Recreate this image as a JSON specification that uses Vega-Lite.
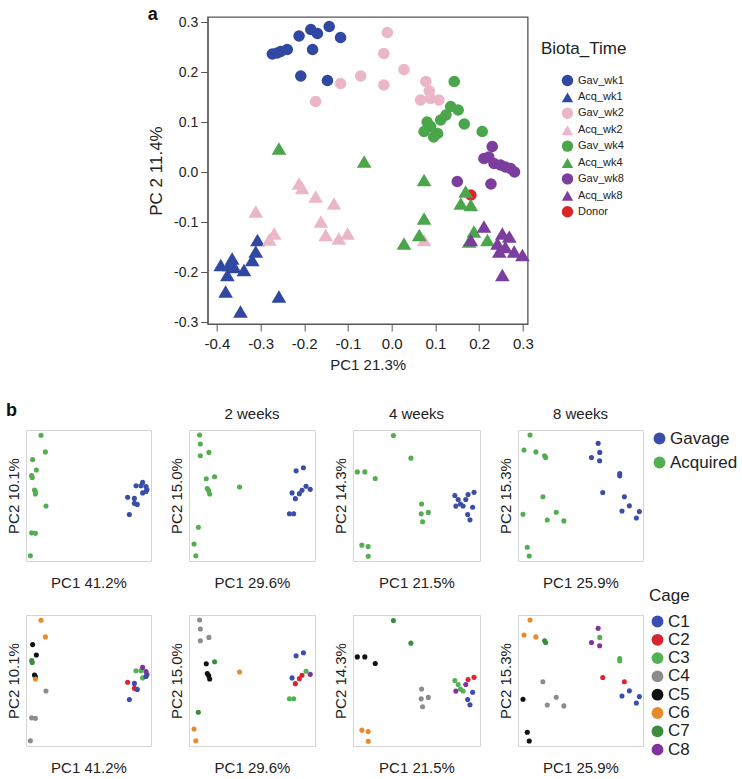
{
  "$schema": "https://vega.github.io/schema/vega-lite/v6.json",
  "padding": {"left": 5, "top": 5, "right": 0, "bottom": 0},
  "config": {
    "font": "Liberation Sans",
    "view": {"stroke": "#d4d4d4"},
    "axis": {"grid": false, "labelColor": "#222", "titleColor": "#222", "titleFontWeight": "normal", "labelFont": "Liberation Sans", "titleFont": "Liberation Sans"},
    "title": {"font": "Liberation Sans", "fontWeight": "normal", "color": "#222"},
    "legend": {"labelFont": "Liberation Sans", "titleFont": "Liberation Sans", "labelColor": "#222", "titleColor": "#222", "titleFontWeight": "normal"}
  },
  "datasets": {
    "top": [
      {"bt": "Gav_wk1", "x": -0.273, "y": 0.236}, {"bt": "Gav_wk1", "x": -0.262, "y": 0.238}, {"bt": "Gav_wk1", "x": -0.254, "y": 0.241}, {"bt": "Gav_wk1", "x": -0.239, "y": 0.245}, {"bt": "Gav_wk1", "x": -0.212, "y": 0.272}, {"bt": "Gav_wk1", "x": -0.185, "y": 0.285}, {"bt": "Gav_wk1", "x": -0.17, "y": 0.277}, {"bt": "Gav_wk1", "x": -0.143, "y": 0.291}, {"bt": "Gav_wk1", "x": -0.117, "y": 0.269}, {"bt": "Gav_wk1", "x": -0.181, "y": 0.245}, {"bt": "Gav_wk1", "x": -0.208, "y": 0.192}, {"bt": "Gav_wk1", "x": -0.147, "y": 0.183},
      {"bt": "Acq_wk1", "x": -0.307, "y": -0.136}, {"bt": "Acq_wk1", "x": -0.311, "y": -0.159}, {"bt": "Acq_wk1", "x": -0.319, "y": -0.176}, {"bt": "Acq_wk1", "x": -0.338, "y": -0.196}, {"bt": "Acq_wk1", "x": -0.365, "y": -0.173}, {"bt": "Acq_wk1", "x": -0.372, "y": -0.186}, {"bt": "Acq_wk1", "x": -0.391, "y": -0.186}, {"bt": "Acq_wk1", "x": -0.376, "y": -0.206}, {"bt": "Acq_wk1", "x": -0.38, "y": -0.239}, {"bt": "Acq_wk1", "x": -0.346, "y": -0.279}, {"bt": "Acq_wk1", "x": -0.258, "y": -0.249}, {"bt": "Acq_wk1", "x": -0.36, "y": -0.19},
      {"bt": "Gav_wk2", "x": -0.01, "y": 0.279}, {"bt": "Gav_wk2", "x": -0.018, "y": 0.237}, {"bt": "Gav_wk2", "x": 0.028, "y": 0.205}, {"bt": "Gav_wk2", "x": -0.071, "y": 0.192}, {"bt": "Gav_wk2", "x": -0.117, "y": 0.177}, {"bt": "Gav_wk2", "x": -0.018, "y": 0.174}, {"bt": "Gav_wk2", "x": -0.174, "y": 0.141}, {"bt": "Gav_wk2", "x": 0.078, "y": 0.181}, {"bt": "Gav_wk2", "x": 0.066, "y": 0.144}, {"bt": "Gav_wk2", "x": 0.089, "y": 0.147}, {"bt": "Gav_wk2", "x": 0.108, "y": 0.144}, {"bt": "Gav_wk2", "x": 0.086, "y": 0.162},
      {"bt": "Acq_wk2", "x": -0.212, "y": -0.023}, {"bt": "Acq_wk2", "x": -0.205, "y": -0.032}, {"bt": "Acq_wk2", "x": -0.174, "y": -0.049}, {"bt": "Acq_wk2", "x": -0.132, "y": -0.063}, {"bt": "Acq_wk2", "x": -0.311, "y": -0.079}, {"bt": "Acq_wk2", "x": -0.162, "y": -0.099}, {"bt": "Acq_wk2", "x": -0.269, "y": -0.123}, {"bt": "Acq_wk2", "x": -0.28, "y": -0.135}, {"bt": "Acq_wk2", "x": -0.151, "y": -0.126}, {"bt": "Acq_wk2", "x": -0.121, "y": -0.133}, {"bt": "Acq_wk2", "x": -0.101, "y": -0.123}, {"bt": "Acq_wk2", "x": 0.074, "y": -0.136},
      {"bt": "Gav_wk4", "x": 0.143, "y": 0.181}, {"bt": "Gav_wk4", "x": 0.135, "y": 0.131}, {"bt": "Gav_wk4", "x": 0.152, "y": 0.124}, {"bt": "Gav_wk4", "x": 0.074, "y": 0.081}, {"bt": "Gav_wk4", "x": 0.089, "y": 0.091}, {"bt": "Gav_wk4", "x": 0.105, "y": 0.077}, {"bt": "Gav_wk4", "x": 0.112, "y": 0.104}, {"bt": "Gav_wk4", "x": 0.124, "y": 0.114}, {"bt": "Gav_wk4", "x": 0.166, "y": 0.096}, {"bt": "Gav_wk4", "x": 0.207, "y": 0.081}, {"bt": "Gav_wk4", "x": 0.081, "y": 0.1}, {"bt": "Gav_wk4", "x": 0.096, "y": 0.07},
      {"bt": "Acq_wk4", "x": -0.258, "y": 0.047}, {"bt": "Acq_wk4", "x": -0.063, "y": 0.021}, {"bt": "Acq_wk4", "x": 0.074, "y": -0.016}, {"bt": "Acq_wk4", "x": 0.074, "y": -0.093}, {"bt": "Acq_wk4", "x": 0.063, "y": -0.126}, {"bt": "Acq_wk4", "x": 0.028, "y": -0.143}, {"bt": "Acq_wk4", "x": 0.169, "y": -0.039}, {"bt": "Acq_wk4", "x": 0.158, "y": -0.063}, {"bt": "Acq_wk4", "x": 0.181, "y": -0.066}, {"bt": "Acq_wk4", "x": 0.188, "y": -0.119}, {"bt": "Acq_wk4", "x": 0.177, "y": -0.139}, {"bt": "Acq_wk4", "x": 0.219, "y": -0.136},
      {"bt": "Gav_wk8", "x": 0.23, "y": 0.051}, {"bt": "Gav_wk8", "x": 0.211, "y": 0.027}, {"bt": "Gav_wk8", "x": 0.234, "y": 0.017}, {"bt": "Gav_wk8", "x": 0.249, "y": 0.014}, {"bt": "Gav_wk8", "x": 0.26, "y": 0.01}, {"bt": "Gav_wk8", "x": 0.272, "y": 0.007}, {"bt": "Gav_wk8", "x": 0.281, "y": 0.0}, {"bt": "Gav_wk8", "x": 0.15, "y": -0.019}, {"bt": "Gav_wk8", "x": 0.227, "y": -0.024}, {"bt": "Gav_wk8", "x": 0.222, "y": 0.03},
      {"bt": "Acq_wk8", "x": 0.211, "y": -0.109}, {"bt": "Acq_wk8", "x": 0.181, "y": -0.136}, {"bt": "Acq_wk8", "x": 0.253, "y": -0.123}, {"bt": "Acq_wk8", "x": 0.269, "y": -0.129}, {"bt": "Acq_wk8", "x": 0.242, "y": -0.143}, {"bt": "Acq_wk8", "x": 0.246, "y": -0.159}, {"bt": "Acq_wk8", "x": 0.28, "y": -0.159}, {"bt": "Acq_wk8", "x": 0.299, "y": -0.166}, {"bt": "Acq_wk8", "x": 0.253, "y": -0.206}, {"bt": "Acq_wk8", "x": 0.26, "y": -0.15},
      {"bt": "Donor", "x": 0.181, "y": -0.046}
    ],
    "pc": [
      {"w": 1, "g": "Acquired", "c": "C6", "x": 0.12, "y": 0.96}, {"w": 1, "g": "Acquired", "c": "C6", "x": 0.155, "y": 0.833}, {"w": 1, "g": "Acquired", "c": "C5", "x": 0.053, "y": 0.774}, {"w": 1, "g": "Acquired", "c": "C5", "x": 0.083, "y": 0.695}, {"w": 1, "g": "Acquired", "c": "C7", "x": 0.045, "y": 0.652}, {"w": 1, "g": "Acquired", "c": "C7", "x": 0.05, "y": 0.638}, {"w": 1, "g": "Acquired", "c": "C5", "x": 0.068, "y": 0.542}, {"w": 1, "g": "Acquired", "c": "C5", "x": 0.075, "y": 0.53}, {"w": 1, "g": "Acquired", "c": "C6", "x": 0.075, "y": 0.511}, {"w": 1, "g": "Acquired", "c": "C4", "x": 0.16, "y": 0.42}, {"w": 1, "g": "Acquired", "c": "C4", "x": 0.045, "y": 0.215}, {"w": 1, "g": "Acquired", "c": "C4", "x": 0.075, "y": 0.211}, {"w": 1, "g": "Acquired", "c": "C4", "x": 0.035, "y": 0.04},
      {"w": 1, "g": "Gavage", "c": "C2", "x": 0.813, "y": 0.487}, {"w": 1, "g": "Gavage", "c": "C2", "x": 0.867, "y": 0.44}, {"w": 1, "g": "Gavage", "c": "C1", "x": 0.867, "y": 0.478}, {"w": 1, "g": "Gavage", "c": "C1", "x": 0.89, "y": 0.432}, {"w": 1, "g": "Gavage", "c": "C1", "x": 0.827, "y": 0.355}, {"w": 1, "g": "Gavage", "c": "C3", "x": 0.88, "y": 0.574}, {"w": 1, "g": "Gavage", "c": "C3", "x": 0.92, "y": 0.574}, {"w": 1, "g": "Gavage", "c": "C8", "x": 0.933, "y": 0.6}, {"w": 1, "g": "Gavage", "c": "C3", "x": 0.933, "y": 0.52}, {"w": 1, "g": "Gavage", "c": "C8", "x": 0.96, "y": 0.568}, {"w": 1, "g": "Gavage", "c": "C8", "x": 0.968, "y": 0.545}, {"w": 1, "g": "Gavage", "c": "C1", "x": 0.96, "y": 0.53},
      {"w": 2, "g": "Acquired", "c": "C4", "x": 0.084, "y": 0.962}, {"w": 2, "g": "Acquired", "c": "C4", "x": 0.09, "y": 0.893}, {"w": 2, "g": "Acquired", "c": "C4", "x": 0.09, "y": 0.803}, {"w": 2, "g": "Acquired", "c": "C4", "x": 0.158, "y": 0.829}, {"w": 2, "g": "Acquired", "c": "C5", "x": 0.137, "y": 0.628}, {"w": 2, "g": "Acquired", "c": "C7", "x": 0.203, "y": 0.643}, {"w": 2, "g": "Acquired", "c": "C5", "x": 0.145, "y": 0.553}, {"w": 2, "g": "Acquired", "c": "C5", "x": 0.156, "y": 0.537}, {"w": 2, "g": "Acquired", "c": "C5", "x": 0.164, "y": 0.512}, {"w": 2, "g": "Acquired", "c": "C6", "x": 0.401, "y": 0.565}, {"w": 2, "g": "Acquired", "c": "C7", "x": 0.074, "y": 0.258}, {"w": 2, "g": "Acquired", "c": "C6", "x": 0.04, "y": 0.13}, {"w": 2, "g": "Acquired", "c": "C6", "x": 0.054, "y": 0.04},
      {"w": 2, "g": "Gavage", "c": "C1", "x": 0.85, "y": 0.688}, {"w": 2, "g": "Gavage", "c": "C1", "x": 0.908, "y": 0.712}, {"w": 2, "g": "Gavage", "c": "C3", "x": 0.797, "y": 0.361}, {"w": 2, "g": "Gavage", "c": "C3", "x": 0.831, "y": 0.361}, {"w": 2, "g": "Gavage", "c": "C1", "x": 0.818, "y": 0.52}, {"w": 2, "g": "Gavage", "c": "C2", "x": 0.844, "y": 0.476}, {"w": 2, "g": "Gavage", "c": "C2", "x": 0.876, "y": 0.514}, {"w": 2, "g": "Gavage", "c": "C2", "x": 0.897, "y": 0.54}, {"w": 2, "g": "Gavage", "c": "C3", "x": 0.929, "y": 0.571}, {"w": 2, "g": "Gavage", "c": "C8", "x": 0.962, "y": 0.547},
      {"w": 4, "g": "Acquired", "c": "C7", "x": 0.318, "y": 0.958}, {"w": 4, "g": "Acquired", "c": "C7", "x": 0.456, "y": 0.785}, {"w": 4, "g": "Acquired", "c": "C5", "x": 0.034, "y": 0.68}, {"w": 4, "g": "Acquired", "c": "C5", "x": 0.093, "y": 0.68}, {"w": 4, "g": "Acquired", "c": "C5", "x": 0.175, "y": 0.63}, {"w": 4, "g": "Acquired", "c": "C4", "x": 0.54, "y": 0.435}, {"w": 4, "g": "Acquired", "c": "C4", "x": 0.537, "y": 0.36}, {"w": 4, "g": "Acquired", "c": "C4", "x": 0.593, "y": 0.371}, {"w": 4, "g": "Acquired", "c": "C4", "x": 0.548, "y": 0.3}, {"w": 4, "g": "Acquired", "c": "C6", "x": 0.07, "y": 0.121}, {"w": 4, "g": "Acquired", "c": "C6", "x": 0.119, "y": 0.11}, {"w": 4, "g": "Acquired", "c": "C6", "x": 0.12, "y": 0.036},
      {"w": 4, "g": "Gavage", "c": "C3", "x": 0.802, "y": 0.5}, {"w": 4, "g": "Gavage", "c": "C3", "x": 0.828, "y": 0.47}, {"w": 4, "g": "Gavage", "c": "C3", "x": 0.846, "y": 0.435}, {"w": 4, "g": "Gavage", "c": "C3", "x": 0.867, "y": 0.42}, {"w": 4, "g": "Gavage", "c": "C8", "x": 0.888, "y": 0.47}, {"w": 4, "g": "Gavage", "c": "C8", "x": 0.81, "y": 0.419}, {"w": 4, "g": "Gavage", "c": "C2", "x": 0.906, "y": 0.507}, {"w": 4, "g": "Gavage", "c": "C2", "x": 0.953, "y": 0.524}, {"w": 4, "g": "Gavage", "c": "C1", "x": 0.942, "y": 0.41}, {"w": 4, "g": "Gavage", "c": "C1", "x": 0.903, "y": 0.355}, {"w": 4, "g": "Gavage", "c": "C1", "x": 0.921, "y": 0.314},
      {"w": 8, "g": "Acquired", "c": "C6", "x": 0.096, "y": 0.962}, {"w": 8, "g": "Acquired", "c": "C6", "x": 0.048, "y": 0.847}, {"w": 8, "g": "Acquired", "c": "C6", "x": 0.143, "y": 0.833}, {"w": 8, "g": "Acquired", "c": "C7", "x": 0.213, "y": 0.803}, {"w": 8, "g": "Acquired", "c": "C7", "x": 0.221, "y": 0.79}, {"w": 8, "g": "Acquired", "c": "C4", "x": 0.199, "y": 0.491}, {"w": 8, "g": "Acquired", "c": "C5", "x": 0.04, "y": 0.357}, {"w": 8, "g": "Acquired", "c": "C4", "x": 0.306, "y": 0.372}, {"w": 8, "g": "Acquired", "c": "C4", "x": 0.234, "y": 0.313}, {"w": 8, "g": "Acquired", "c": "C4", "x": 0.367, "y": 0.306}, {"w": 8, "g": "Acquired", "c": "C5", "x": 0.074, "y": 0.105}, {"w": 8, "g": "Acquired", "c": "C5", "x": 0.09, "y": 0.038},
      {"w": 8, "g": "Gavage", "c": "C8", "x": 0.641, "y": 0.898}, {"w": 8, "g": "Gavage", "c": "C3", "x": 0.654, "y": 0.829}, {"w": 8, "g": "Gavage", "c": "C8", "x": 0.588, "y": 0.79}, {"w": 8, "g": "Gavage", "c": "C8", "x": 0.653, "y": 0.765}, {"w": 8, "g": "Gavage", "c": "C3", "x": 0.814, "y": 0.668}, {"w": 8, "g": "Gavage", "c": "C3", "x": 0.814, "y": 0.65}, {"w": 8, "g": "Gavage", "c": "C2", "x": 0.678, "y": 0.523}, {"w": 8, "g": "Gavage", "c": "C2", "x": 0.851, "y": 0.49}, {"w": 8, "g": "Gavage", "c": "C1", "x": 0.891, "y": 0.421}, {"w": 8, "g": "Gavage", "c": "C1", "x": 0.832, "y": 0.382}, {"w": 8, "g": "Gavage", "c": "C1", "x": 0.971, "y": 0.377}, {"w": 8, "g": "Gavage", "c": "C1", "x": 0.947, "y": 0.328}
    ]
  },
  "center": true,
  "spacing": 28,
  "resolve": {"scale": {"color": "shared", "shape": "shared", "fill": "independent"}, "legend": {"color": "shared", "shape": "shared", "fill": "independent"}},
  "vconcat": [
    {
      "width": 320,
      "height": 307,
      "view": {"stroke": "#555", "strokeWidth": 1.3},
      "title": {"text": "a", "anchor": "start", "frame": "group", "dx": -60, "fontSize": 18, "fontWeight": "bold", "offset": -9, "color": "#111"},
      "data": {"name": "top"},
      "resolve": {"axis": {"y": "independent"}},
      "encoding": {
        "x": {"field": "x", "type": "quantitative", "scale": {"domain": [-0.421, 0.311], "nice": false, "zero": false},
          "axis": {"title": "PC1 21.3%", "values": [-0.4, -0.3, -0.2, -0.1, 0, 0.1, 0.2, 0.3], "labelExpr": "replace(format(datum.value, '.1f'), '\u2212', '-')", "tickSize": 7, "labelPadding": 5, "labelFontSize": 15, "titleFontSize": 15, "titlePadding": 6, "domainColor": "#555", "tickColor": "#555", "labelFlush": false, "labelOverlap": false}},
        "color": {"field": "bt", "type": "nominal",
          "scale": {"domain": ["Gav_wk1", "Acq_wk1", "Gav_wk2", "Acq_wk2", "Gav_wk4", "Acq_wk4", "Gav_wk8", "Acq_wk8", "Donor"], "range": ["#3048A2", "#3048A2", "#ECB6C9", "#ECB6C9", "#4BA64B", "#4BA64B", "#7C3E9E", "#7C3E9E", "#DD2528"]},
          "legend": {"title": "Biota_Time", "orient": "none", "legendX": 515, "legendY": 24, "titleFontSize": 17, "titlePadding": 16, "labelFontSize": 11, "symbolSize": 130, "rowPadding": 3.9, "symbolOffset": 20, "labelOffset": 4}},
        "shape": {"field": "bt", "type": "nominal",
          "scale": {"domain": ["Gav_wk1", "Acq_wk1", "Gav_wk2", "Acq_wk2", "Gav_wk4", "Acq_wk4", "Gav_wk8", "Acq_wk8", "Donor"], "range": ["circle", "triangle-up", "circle", "triangle-up", "circle", "triangle-up", "circle", "triangle-up", "circle"]},
          "legend": {"title": "Biota_Time", "orient": "none", "legendX": 515, "legendY": 24, "titleFontSize": 17, "titlePadding": 16, "labelFontSize": 11, "symbolSize": 130, "rowPadding": 3.9, "symbolOffset": 20, "labelOffset": 4}}
      },
      "layer": [
        {"transform": [{"filter": "indexof(datum.bt, 'Acq') < 0"}], "mark": {"type": "point", "filled": true, "size": 135, "opacity": 1},
         "encoding": {"y": {"field": "y", "type": "quantitative", "scale": {"domain": [-0.304, 0.31], "nice": false, "zero": false},
          "axis": {"title": "PC 2 11.4%", "values": [-0.3, -0.2, -0.1, 0, 0.1, 0.2, 0.3], "labelExpr": "replace(format(datum.value, '.1f'), '\u2212', '-')", "tickSize": 7, "labelPadding": 3, "labelFontSize": 14, "titleFontSize": 17, "titlePadding": 8, "domainColor": "#555", "tickColor": "#555", "labelFlush": false, "labelOverlap": false}}}},
        {"transform": [{"filter": "indexof(datum.bt, 'Acq') == 0"}], "mark": {"type": "point", "filled": true, "size": 215, "opacity": 1},
         "encoding": {"y": {"field": "y", "type": "quantitative", "scale": {"domain": [-0.304, 0.31], "nice": false, "zero": false},
          "axis": {"orient": "right", "offset": 0, "title": " ", "titleFontSize": 28, "titlePadding": 0, "labels": false, "ticks": false, "domain": false}}}}
      ]
    },
    {
      "spacing": -3,
      "resolve": {"scale": {"fill": "independent"}, "legend": {"fill": "independent"}},
      "vconcat": [
        {
          "spacing": 16,
          "resolve": {"scale": {"fill": "shared"}},
          "hconcat": [
            {"width": 125, "height": 131, "title": {"text": "b", "anchor": "start", "frame": "bounds", "fontSize": 18, "fontWeight": "bold", "offset": 10, "color": "#111"},
             "data": {"name": "pc"}, "transform": [{"filter": "datum.w == 1"}], "mark": {"type": "circle", "size": 26, "opacity": 1},
             "encoding": {"x": {"field": "x", "type": "quantitative", "scale": {"domain": [0, 1]}, "axis": {"title": "PC1 41.2%", "labels": false, "ticks": false, "domain": false, "titleFontSize": 15, "titlePadding": 14}},
              "y": {"field": "y", "type": "quantitative", "scale": {"domain": [0, 1]}, "axis": {"title": "PC2 10.1%", "labels": false, "ticks": false, "domain": false, "titleFontSize": 15, "titlePadding": 5}},
              "fill": {"field": "g", "type": "nominal", "scale": {"domain": ["Gavage", "Acquired"], "range": ["#3A4DA8", "#52AE4E"]}, "legend": {"title": null, "orient": "right", "offset": 7, "labelFontSize": 17, "symbolSize": 140, "rowPadding": 6, "labelOffset": 2}}}},
            {"width": 126, "height": 131, "title": {"text": "2 weeks", "fontSize": 15, "offset": 8},
             "data": {"name": "pc"}, "transform": [{"filter": "datum.w == 2"}], "mark": {"type": "circle", "size": 26, "opacity": 1},
             "encoding": {"x": {"field": "x", "type": "quantitative", "scale": {"domain": [0, 1]}, "axis": {"title": "PC1 29.6%", "labels": false, "ticks": false, "domain": false, "titleFontSize": 15, "titlePadding": 14}},
              "y": {"field": "y", "type": "quantitative", "scale": {"domain": [0, 1]}, "axis": {"title": "PC2 15.0%", "labels": false, "ticks": false, "domain": false, "titleFontSize": 15, "titlePadding": 5}},
              "fill": {"field": "g", "type": "nominal", "scale": {"domain": ["Gavage", "Acquired"], "range": ["#3A4DA8", "#52AE4E"]}, "legend": {"title": null, "orient": "right", "offset": 7, "labelFontSize": 17, "symbolSize": 140, "rowPadding": 6, "labelOffset": 2}}}},
            {"width": 127, "height": 131, "title": {"text": "4 weeks", "fontSize": 15, "offset": 8},
             "data": {"name": "pc"}, "transform": [{"filter": "datum.w == 4"}], "mark": {"type": "circle", "size": 26, "opacity": 1},
             "encoding": {"x": {"field": "x", "type": "quantitative", "scale": {"domain": [0, 1]}, "axis": {"title": "PC1 21.5%", "labels": false, "ticks": false, "domain": false, "titleFontSize": 15, "titlePadding": 14}},
              "y": {"field": "y", "type": "quantitative", "scale": {"domain": [0, 1]}, "axis": {"title": "PC2 14.3%", "labels": false, "ticks": false, "domain": false, "titleFontSize": 15, "titlePadding": 5}},
              "fill": {"field": "g", "type": "nominal", "scale": {"domain": ["Gavage", "Acquired"], "range": ["#3A4DA8", "#52AE4E"]}, "legend": {"title": null, "orient": "right", "offset": 7, "labelFontSize": 17, "symbolSize": 140, "rowPadding": 6, "labelOffset": 2}}}},
            {"width": 125, "height": 131, "title": {"text": "8 weeks", "fontSize": 15, "offset": 8},
             "data": {"name": "pc"}, "transform": [{"filter": "datum.w == 8"}], "mark": {"type": "circle", "size": 26, "opacity": 1},
             "encoding": {"x": {"field": "x", "type": "quantitative", "scale": {"domain": [0, 1]}, "axis": {"title": "PC1 25.9%", "labels": false, "ticks": false, "domain": false, "titleFontSize": 15, "titlePadding": 14}},
              "y": {"field": "y", "type": "quantitative", "scale": {"domain": [0, 1]}, "axis": {"title": "PC2 15.3%", "labels": false, "ticks": false, "domain": false, "titleFontSize": 15, "titlePadding": 5}},
              "fill": {"field": "g", "type": "nominal", "scale": {"domain": ["Gavage", "Acquired"], "range": ["#3A4DA8", "#52AE4E"]}, "legend": {"title": null, "orient": "right", "offset": 7, "labelFontSize": 17, "symbolSize": 140, "rowPadding": 6, "labelOffset": 2}}}}
          ]
        },
        {
          "spacing": 16,
          "resolve": {"scale": {"fill": "shared"}},
          "hconcat": [
            {"width": 125, "height": 131,
             "data": {"name": "pc"}, "transform": [{"filter": "datum.w == 1"}], "mark": {"type": "circle", "size": 26, "opacity": 1},
             "encoding": {"x": {"field": "x", "type": "quantitative", "scale": {"domain": [0, 1]}, "axis": {"title": "PC1 41.2%", "labels": false, "ticks": false, "domain": false, "titleFontSize": 15, "titlePadding": 14}},
              "y": {"field": "y", "type": "quantitative", "scale": {"domain": [0, 1]}, "axis": {"title": "PC2 10.1%", "labels": false, "ticks": false, "domain": false, "titleFontSize": 15, "titlePadding": 5}},
              "fill": {"field": "c", "type": "nominal", "scale": {"domain": ["C1", "C2", "C3", "C4", "C5", "C6", "C7", "C8"], "range": ["#3A4DB0", "#D7262E", "#53B153", "#8C8C8C", "#111111", "#E8892B", "#3D8C3D", "#82329C"]}, "legend": {"title": "Cage", "orient": "none", "legendX": 623, "legendY": -27, "titleFontSize": 17, "titlePadding": 8, "labelFontSize": 17, "symbolSize": 140, "rowPadding": 0.3, "labelOffset": 2}}}},
            {"width": 126, "height": 131,
             "data": {"name": "pc"}, "transform": [{"filter": "datum.w == 2"}], "mark": {"type": "circle", "size": 26, "opacity": 1},
             "encoding": {"x": {"field": "x", "type": "quantitative", "scale": {"domain": [0, 1]}, "axis": {"title": "PC1 29.6%", "labels": false, "ticks": false, "domain": false, "titleFontSize": 15, "titlePadding": 14}},
              "y": {"field": "y", "type": "quantitative", "scale": {"domain": [0, 1]}, "axis": {"title": "PC2 15.0%", "labels": false, "ticks": false, "domain": false, "titleFontSize": 15, "titlePadding": 5}},
              "fill": {"field": "c", "type": "nominal", "scale": {"domain": ["C1", "C2", "C3", "C4", "C5", "C6", "C7", "C8"], "range": ["#3A4DB0", "#D7262E", "#53B153", "#8C8C8C", "#111111", "#E8892B", "#3D8C3D", "#82329C"]}, "legend": {"title": "Cage", "orient": "none", "legendX": 623, "legendY": -27, "titleFontSize": 17, "titlePadding": 8, "labelFontSize": 17, "symbolSize": 140, "rowPadding": 0.3, "labelOffset": 2}}}},
            {"width": 127, "height": 131,
             "data": {"name": "pc"}, "transform": [{"filter": "datum.w == 4"}], "mark": {"type": "circle", "size": 26, "opacity": 1},
             "encoding": {"x": {"field": "x", "type": "quantitative", "scale": {"domain": [0, 1]}, "axis": {"title": "PC1 21.5%", "labels": false, "ticks": false, "domain": false, "titleFontSize": 15, "titlePadding": 14}},
              "y": {"field": "y", "type": "quantitative", "scale": {"domain": [0, 1]}, "axis": {"title": "PC2 14.3%", "labels": false, "ticks": false, "domain": false, "titleFontSize": 15, "titlePadding": 5}},
              "fill": {"field": "c", "type": "nominal", "scale": {"domain": ["C1", "C2", "C3", "C4", "C5", "C6", "C7", "C8"], "range": ["#3A4DB0", "#D7262E", "#53B153", "#8C8C8C", "#111111", "#E8892B", "#3D8C3D", "#82329C"]}, "legend": {"title": "Cage", "orient": "none", "legendX": 623, "legendY": -27, "titleFontSize": 17, "titlePadding": 8, "labelFontSize": 17, "symbolSize": 140, "rowPadding": 0.3, "labelOffset": 2}}}},
            {"width": 125, "height": 131,
             "data": {"name": "pc"}, "transform": [{"filter": "datum.w == 8"}], "mark": {"type": "circle", "size": 26, "opacity": 1},
             "encoding": {"x": {"field": "x", "type": "quantitative", "scale": {"domain": [0, 1]}, "axis": {"title": "PC1 25.9%", "labels": false, "ticks": false, "domain": false, "titleFontSize": 15, "titlePadding": 14}},
              "y": {"field": "y", "type": "quantitative", "scale": {"domain": [0, 1]}, "axis": {"title": "PC2 15.3%", "labels": false, "ticks": false, "domain": false, "titleFontSize": 15, "titlePadding": 5}},
              "fill": {"field": "c", "type": "nominal", "scale": {"domain": ["C1", "C2", "C3", "C4", "C5", "C6", "C7", "C8"], "range": ["#3A4DB0", "#D7262E", "#53B153", "#8C8C8C", "#111111", "#E8892B", "#3D8C3D", "#82329C"]}, "legend": {"title": "Cage", "orient": "none", "legendX": 623, "legendY": -27, "titleFontSize": 17, "titlePadding": 8, "labelFontSize": 17, "symbolSize": 140, "rowPadding": 0.3, "labelOffset": 2}}}}
          ]
        }
      ]
    }
  ]
}
